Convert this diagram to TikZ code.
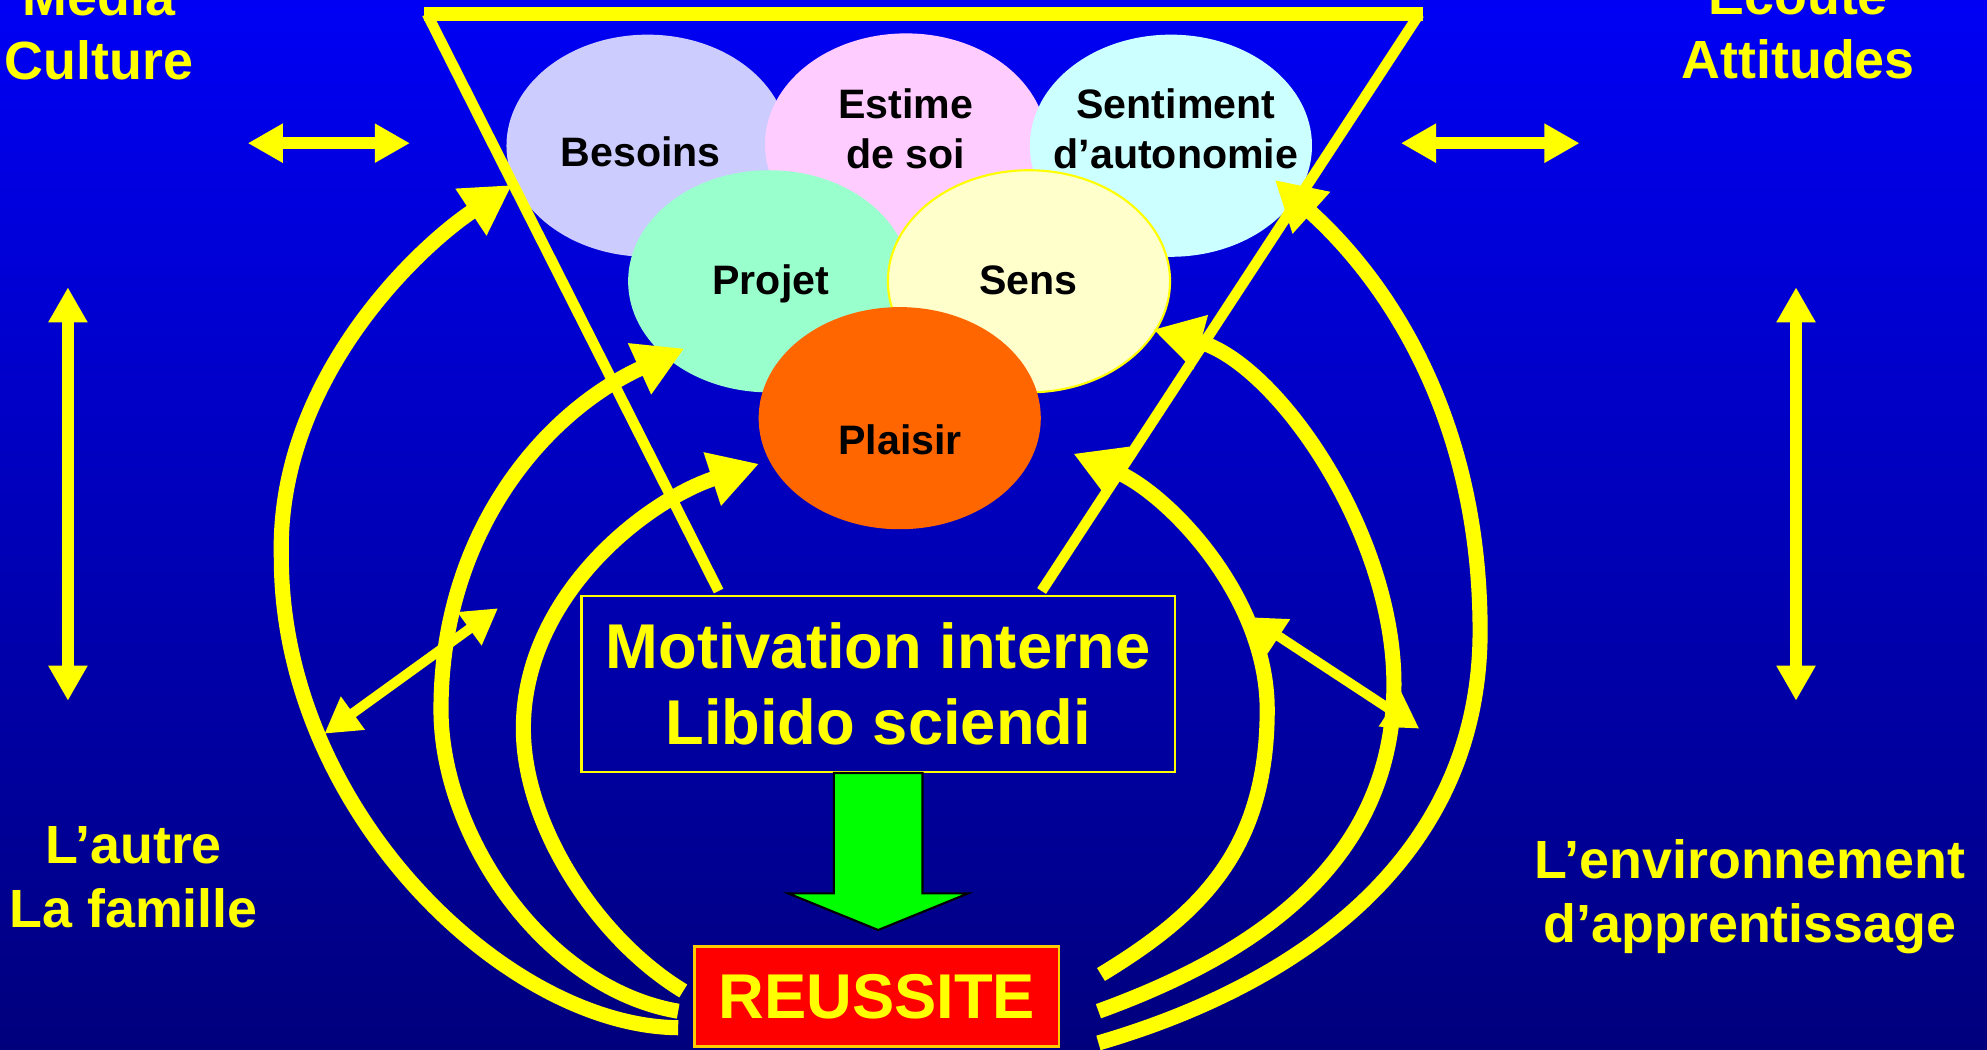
\documentclass[tikz,border=0pt]{standalone}
\usepackage{fontspec}
\setmainfont{Liberation Sans}
\usetikzlibrary{shapes.geometric,arrows.meta,calc}

\definecolor{fondhaut}{RGB}{0,0,245}
\definecolor{fondbas}{RGB}{0,0,125}
\definecolor{jaune}{RGB}{255,255,0}
\definecolor{lavande}{RGB}{204,204,255}
\definecolor{rose}{RGB}{255,204,255}
\definecolor{ciel}{RGB}{204,255,255}
\definecolor{menthe}{RGB}{153,255,204}
\definecolor{creme}{RGB}{255,255,204}
\definecolor{orangeplaisir}{RGB}{255,102,0}
\definecolor{vert}{RGB}{0,255,0}
\definecolor{rouge}{RGB}{255,0,0}
\definecolor{bordrouge}{RGB}{255,204,0}

\begin{document}
\begin{tikzpicture}[x=0.012672cm, y=-0.012672cm,
  bulle/.style={ellipse, minimum width=2.82cm, minimum height=2.22cm, inner sep=0pt},
  eti/.style={font=\bfseries\fontsize{11.7}{14.2}\selectfont, align=center, inner sep=0pt},
  cote/.style={text=jaune, font=\bfseries\fontsize{15.3}{18.2}\selectfont, align=center, inner sep=0pt},
  cadre/.style={draw=jaune, line width=0.6pt, minimum width=5.93cm, minimum height=1.76cm, text=jaune, font=\bfseries\fontsize{18}{21.8}\selectfont, align=center},
  boucle/.style={draw=jaune, line width=4.3pt, -{Triangle[length=14pt,width=15pt]}},
  petite/.style={draw=jaune, line width=2.8pt, {Triangle[length=10pt,width=11pt]}-{Triangle[length=10pt,width=11pt]}},
  allerretour/.style={draw=jaune, line width=3.4pt, {Triangle[length=10pt,width=10.5pt]}-{Triangle[length=10pt,width=10.5pt]}}]
  \useasboundingbox (0,0) rectangle (1568,828);
  \clip (0,0) rectangle (1568,828);
  \shade[top color=fondhaut, bottom color=fondbas] (0,0) rectangle (1568,828);

  \node[bulle, fill=lavande] (besoins) at (511,115) {};
  \node[bulle, fill=rose] (estime) at (715,114) {};
  \node[bulle, fill=ciel] (sentiment) at (924,115) {};
  \node[bulle, fill=menthe] (projet) at (607,222) {};
  \node[bulle, fill=creme, draw=jaune, line width=0.6pt] (sens) at (812,222) {};
  \node[bulle, fill=orangeplaisir] (plaisir) at (710,330) {};

  \node[eti] (t-besoins) at (505.6,119.7) {Besoins};
  \node[eti] (t-estime) at (714.6,101.3) {Estime\\de soi};
  \node[eti] (t-sentiment) at (928,101.3) {Sentiment\\d’autonomie};
  \node[eti] (t-projet) at (608.3,224.2) {Projet};
  \node[eti] (t-sens) at (811.7,221) {Sens};
  \node[eti] (t-plaisir) at (710.3,347.2) {Plaisir};

  \node[cadre] (motivation) at (693,539.7) {Motivation interne\\Libido sciendi};
  \node[draw=bordrouge, line width=0.8pt, fill=rouge, minimum width=3.64cm, minimum height=1cm, text=jaune, font=\bfseries\fontsize{18}{20}\selectfont] (reussite) at (692,786.5) {REUSSITE};

  \node[cote] (media) at (78,22) {Media\\Culture};
  \node[cote] (ecoute) at (1419,22) {Ecoute\\Attitudes};
  \node[cote] (autre) at (105.5,692) {L’autre\\La famille};
  \node[cote] (environnement) at (1381,708) {L’environnement\\d’apprentissage};

  \coordinate (entonnoirG) at (337,11);
  \coordinate (entonnoirD) at (1120,11);
  \draw[jaune, line width=3pt] ($(motivation.north west)+(109,-3)$) -- (entonnoirG);
  \draw[jaune, line width=3pt] ($(motivation.north east)+(-106,-3)$) -- (entonnoirD);
  \draw[jaune, line width=3.8pt] ([xshift=-1pt]entonnoirG) -- ([xshift=1pt]entonnoirD);

  \filldraw[fill=vert, draw=black, line width=0.6pt] ($(motivation.south)+(-35,0)$) -- ++(0,95) -- ++(-36,0)
    -- ($(reussite.north)+(1,-12)$) -- ($(motivation.south)+(71,95)$) -- ++(-36,0) -- ($(motivation.south)+(35,0)$) -- cycle;

  \draw[boucle] ($(reussite.west)+(-12,24.5)$) .. controls (400,810) and (222,640) .. (222,440)
    .. controls (218,300) and (330,195) .. ($(besoins)+(-107,31)$);
  \draw[boucle] ($(reussite.west)+(-12,11.5)$) .. controls (430,780) and (348,660) .. (348,560)
    .. controls (348,420) and (430,325) .. ($(projet)+(-67,53)$);
  \draw[boucle] ($(reussite.west)+(-8,-4.5)$) .. controls (470,740) and (413,650) .. (413,575)
    .. controls (413,470) and (510,395) .. ($(plaisir)+(-111,36)$);
  \draw[boucle] ($(reussite.east)+(30,36.5)$) .. controls (1025,777) and (1168,677) .. (1168,498)
    .. controls (1168,330) and (1095,222) .. ($(sentiment)+(82,27)$);
  \draw[boucle] ($(reussite.east)+(30,11.5)$) .. controls (988,754) and (1100,682) .. (1100,540)
    .. controls (1100,420) and (1007,286) .. ($(sens)+(98,38)$);
  \draw[boucle] ($(reussite.east)+(32,-17.5)$) .. controls (948,721) and (1000,670) .. (1000,560)
    .. controls (1000,470) and (921,389) .. ($(plaisir)+(137,28)$);

  \coordinate (ga) at (256,579);
  \coordinate (gb) at (393,480);
  \coordinate (da) at (1120,575);
  \coordinate (db) at (986,487);
  \draw[petite] (ga) -- (gb);
  \draw[petite] (da) -- (db);

  \coordinate (hg1) at (195.5,113);
  \coordinate (hg2) at (323.5,113);
  \coordinate (hd1) at (1105.5,113);
  \coordinate (hd2) at (1246.5,113);
  \coordinate (vg1) at (53.6,226.7);
  \coordinate (vg2) at (53.6,553);
  \coordinate (vd1) at (1417.3,226.7);
  \coordinate (vd2) at (1417.3,553);
  \draw[allerretour] (hg1) -- (hg2);
  \draw[allerretour] (hd1) -- (hd2);
  \draw[allerretour] (vg1) -- (vg2);
  \draw[allerretour] (vd1) -- (vd2);
\end{tikzpicture}
\end{document}
